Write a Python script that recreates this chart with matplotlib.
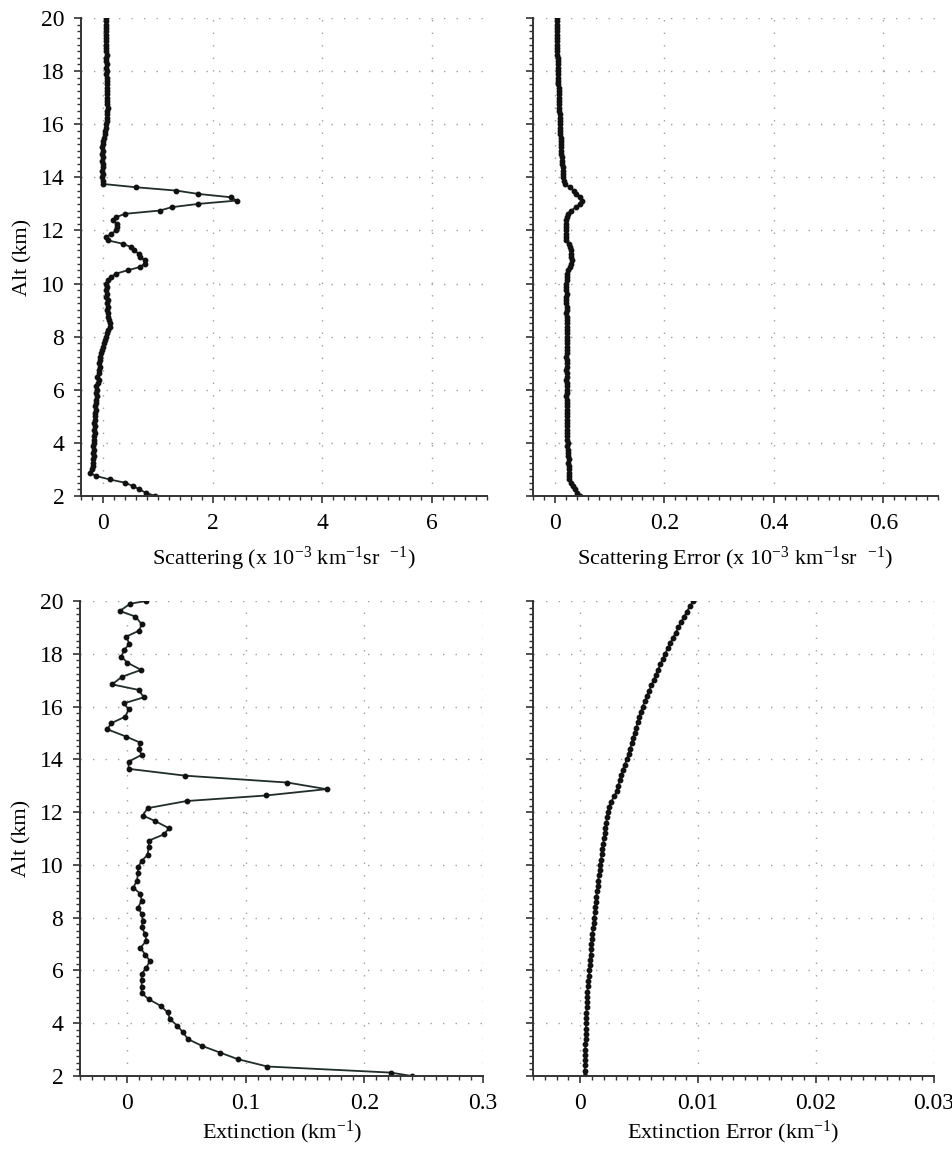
import numpy as np
import matplotlib
matplotlib.use("Agg")
import matplotlib.pyplot as plt
from matplotlib.ticker import MultipleLocator

plt.rcParams["font.family"] = ["Liberation Serif", "DejaVu Serif"]
plt.rcParams["mathtext.fontset"] = "custom"
plt.rcParams["mathtext.rm"] = "Liberation Serif"
plt.rcParams["mathtext.it"] = "Liberation Serif:italic"
plt.rcParams["axes.unicode_minus"] = False

# 後方散乱係数プロファイル (高度 2-20 km, 0.125 km 刻み)
alt_sca = np.arange(2.0, 20.001, 0.125)
scattering = [
    0.95, 0.78, 0.66, 0.55, 0.40, 0.12, -0.12, -0.24,
    -0.20, -0.19, -0.18, -0.19, -0.17, -0.18, -0.16, -0.18, -0.17, -0.16, -0.17, -0.15, -0.16, -0.15, -0.17, -0.15, -0.14,
    -0.15, -0.13, -0.15, -0.12, -0.13, -0.11, -0.12, -0.10, -0.12, -0.09, -0.08, -0.10, -0.07, -0.08, -0.06, -0.07,
    -0.05, -0.06, -0.03, -0.01, 0.00, 0.02, 0.04, 0.06,
    0.08, 0.10, 0.12, 0.13, 0.11, 0.09, 0.10, 0.08, 0.10, 0.07, 0.09, 0.06, 0.08, 0.05, 0.07, 0.05,
    0.10, 0.15, 0.24, 0.45, 0.68, 0.76, 0.77, 0.68, 0.65, 0.57, 0.51, 0.36, 0.09, 0.06, 0.15, 0.24,
    0.26, 0.25, 0.18, 0.24, 0.40, 1.04, 1.25, 1.74, 2.44, 2.33, 1.74, 1.34, 0.61, 0.00, 0.01, -0.01,
    0.00, -0.01, 0.01, 0.00, -0.02, 0.00, -0.01, 0.01, -0.02, 0.00, 0.01, 0.02, 0.03, 0.04, 0.05, 0.06,
    0.07, 0.08, 0.07, 0.08, 0.09, 0.08, 0.08, 0.07, 0.08, 0.07, 0.07, 0.08, 0.07, 0.07, 0.06, 0.07,
    0.06, 0.07, 0.06, 0.06, 0.07, 0.06, 0.05, 0.06, 0.06, 0.05, 0.06, 0.05, 0.05, 0.06, 0.05, 0.06,
]
scattering_err = [
    0.045, 0.041, 0.037, 0.033, 0.029, 0.026, 0.025,
    0.025, 0.025, 0.025, 0.024, 0.025, 0.024, 0.024, 0.024, 0.023, 0.024, 0.023, 0.023, 0.023,
    0.023, 0.022, 0.023, 0.022, 0.022, 0.023, 0.022, 0.022, 0.022, 0.022, 0.021, 0.022, 0.022,
    0.022, 0.022, 0.021, 0.022, 0.022, 0.021, 0.022, 0.022, 0.022, 0.021, 0.022, 0.022, 0.022, 0.023, 0.022, 0.022,
    0.022, 0.022, 0.023, 0.022, 0.022, 0.022, 0.021, 0.022, 0.022, 0.021, 0.021, 0.021, 0.022, 0.021, 0.021, 0.021,
    0.022, 0.022, 0.023, 0.024, 0.027, 0.030, 0.031, 0.030, 0.030, 0.029, 0.027, 0.025, 0.021, 0.020, 0.020, 0.021,
    0.021, 0.021, 0.021, 0.022, 0.024, 0.030, 0.038, 0.046, 0.050, 0.045, 0.038, 0.034, 0.027, 0.018, 0.016, 0.015,
    0.014, 0.014, 0.014, 0.013, 0.013, 0.013, 0.012, 0.012, 0.012, 0.011, 0.011, 0.011, 0.010, 0.010, 0.010, 0.009,
    0.009, 0.009, 0.009, 0.008, 0.008, 0.008, 0.008, 0.007, 0.007, 0.007, 0.007, 0.006, 0.006, 0.006, 0.006, 0.005,
    0.005, 0.005, 0.005, 0.005, 0.004, 0.004, 0.004, 0.004, 0.004, 0.004, 0.003, 0.003, 0.003, 0.003, 0.003, 0.003,
]

# 消散係数プロファイル
alt_ext = [
    2.00, 2.13, 2.36, 2.64, 2.89, 3.14, 3.40, 3.65, 3.91, 4.15, 4.41, 4.66, 4.91, 5.14,
    5.39, 5.64, 5.86, 6.11, 6.36, 6.60, 6.86, 7.12, 7.37, 7.64, 7.88, 8.14, 8.38, 8.65,
    8.90, 9.14, 9.40, 9.68, 9.91, 10.15, 10.38, 10.66, 10.92, 11.16, 11.39, 11.67, 11.87,
    12.15, 12.42, 12.63, 12.87, 13.12, 13.38, 13.64, 13.91, 14.17, 14.38, 14.63, 14.86,
    15.14, 15.37, 15.62, 15.90, 16.12, 16.35, 16.63, 16.84, 17.13, 17.39, 17.66, 17.89,
    18.14, 18.37, 18.65, 18.88, 19.12, 19.41, 19.62, 19.90, 20.00,
]
extinction = [
    0.240, 0.222, 0.118, 0.093, 0.078, 0.063, 0.051, 0.047, 0.042, 0.036, 0.034, 0.028, 0.018, 0.012,
    0.012, 0.012, 0.012, 0.016, 0.019, 0.015, 0.011, 0.016, 0.015, 0.012, 0.013, 0.012, 0.009, 0.012,
    0.011, 0.005, 0.008, 0.009, 0.009, 0.012, 0.017, 0.018, 0.018, 0.031, 0.035, 0.023, 0.013,
    0.017, 0.050, 0.117, 0.168, 0.135, 0.049, 0.001, 0.001, 0.012, 0.0096, 0.011, -0.001,
    -0.017, -0.0136, -0.0017, 0.001, -0.003, 0.0138, 0.0096, -0.013, -0.0045, 0.0116, 0.000, -0.005,
    -0.003, 0.0017, -0.001, 0.010, 0.012, 0.0068, -0.0065, 0.0025, 0.016,
]

# 消散係数の誤差 (0.2 km 刻み)
alt_ext_err = np.arange(2.0, 20.001, 0.2)
extinction_err = [
    0.00037, 0.00038, 0.00040, 0.00041, 0.00042, 0.00043, 0.00045, 0.00046, 0.00047, 0.00049, 0.00050,
    0.00051, 0.00053, 0.00055, 0.00057, 0.00060, 0.00062, 0.00065, 0.00070, 0.00074, 0.00078,
    0.00081, 0.00085, 0.00088, 0.00092, 0.00096, 0.00100, 0.00104, 0.00109, 0.00114, 0.00119,
    0.00124, 0.00128, 0.00133, 0.00138, 0.00143, 0.00148, 0.00153, 0.00158, 0.00164, 0.00170,
    0.00176, 0.00182, 0.00188, 0.00194, 0.00200, 0.00207, 0.00214, 0.00221, 0.00228, 0.00236,
    0.00246, 0.00262, 0.00290, 0.00310, 0.00322, 0.00335, 0.00348, 0.00362, 0.00378, 0.00395,
    0.00410, 0.00422, 0.00436, 0.00448, 0.00462, 0.00475, 0.00488, 0.00500, 0.00515, 0.00530,
    0.00548, 0.00566, 0.00585, 0.00604, 0.00623, 0.00642, 0.00661, 0.00680, 0.00700, 0.00720,
    0.00742, 0.00764, 0.00786, 0.00810, 0.00833, 0.00856, 0.00880, 0.00905, 0.00930, 0.00960,
]

W, H = 953, 1151
LINE = "#1f2d2b"
GRID = "#a0a0a0"


def add_panel(fig, left, top, right, bottom):
    """ピクセル座標でaxesを配置"""
    return fig.add_axes([left / W, 1 - bottom / H, (right - left) / W, (bottom - top) / H])


def style_axis(ax, xlim, xmajor, xminor, show_ylabels):
    ax.set_xlim(*xlim)
    ax.set_ylim(2, 20)
    ax.xaxis.set_major_locator(MultipleLocator(xmajor))
    ax.xaxis.set_minor_locator(MultipleLocator(xminor))
    ax.yaxis.set_major_locator(MultipleLocator(2))
    ax.yaxis.set_minor_locator(MultipleLocator(0.25))
    ax.xaxis.set_major_formatter(plt.FuncFormatter(lambda v, _: "0" if abs(v) < 1e-12 else f"{v:g}"))
    ax.grid(True, which="major", color=GRID, linestyle=(0, (1, 8)), linewidth=1.0)
    ax.set_axisbelow(True)
    for s in ("top", "right"):
        ax.spines[s].set_visible(False)
    for s in ("left", "bottom"):
        ax.spines[s].set_color("#333333")
        ax.spines[s].set_linewidth(1.4)
    ax.tick_params(which="major", direction="out", length=5, width=1.2, color="#333333",
                   labelsize=17, pad=7)
    ax.tick_params(which="minor", direction="out", length=3, width=1.0, color="#333333")
    ax.tick_params(axis="y", labelleft=show_ylabels)
    if show_ylabels:
        ax.set_ylabel("Alt (km)", fontsize=16, labelpad=6)


def draw_profile(ax, x, y):
    ax.plot(x, y, color=LINE, linewidth=1.3, marker="o", markersize=3.2,
            markerfacecolor="#111111", markeredgecolor="#111111")


fig = plt.figure(figsize=(W / 100, H / 100), dpi=100)

ax1 = add_panel(fig, 81, 18, 487, 496)
draw_profile(ax1, scattering, alt_sca)
style_axis(ax1, (-0.4, 7), 2, 0.2, True)
ax1.set_xlabel("Scattering (x 10$^{-3}$ km$^{-1}$sr  $^{-1}$)", fontsize=16, labelpad=8)

ax2 = add_panel(fig, 533, 18, 938, 496)
draw_profile(ax2, scattering_err, alt_sca)
style_axis(ax2, (-0.04, 0.7), 0.2, 0.02, False)
ax2.set_xlabel("Scattering Error (x 10$^{-3}$ km$^{-1}$sr  $^{-1}$)", fontsize=16, labelpad=8)

ax3 = add_panel(fig, 80, 601, 483, 1076)
draw_profile(ax3, extinction, alt_ext)
style_axis(ax3, (-0.04, 0.3), 0.1, 0.01, True)
ax3.set_xlabel("Extinction (km$^{-1}$)", fontsize=16, labelpad=4)

ax4 = add_panel(fig, 533, 601, 934, 1076)
draw_profile(ax4, extinction_err, alt_ext_err)
style_axis(ax4, (-0.004, 0.03), 0.01, 0.001, False)
ax4.set_xlabel("Extinction Error (km$^{-1}$)", fontsize=16, labelpad=4)

fig.savefig("out.png", dpi=100, facecolor="white")
